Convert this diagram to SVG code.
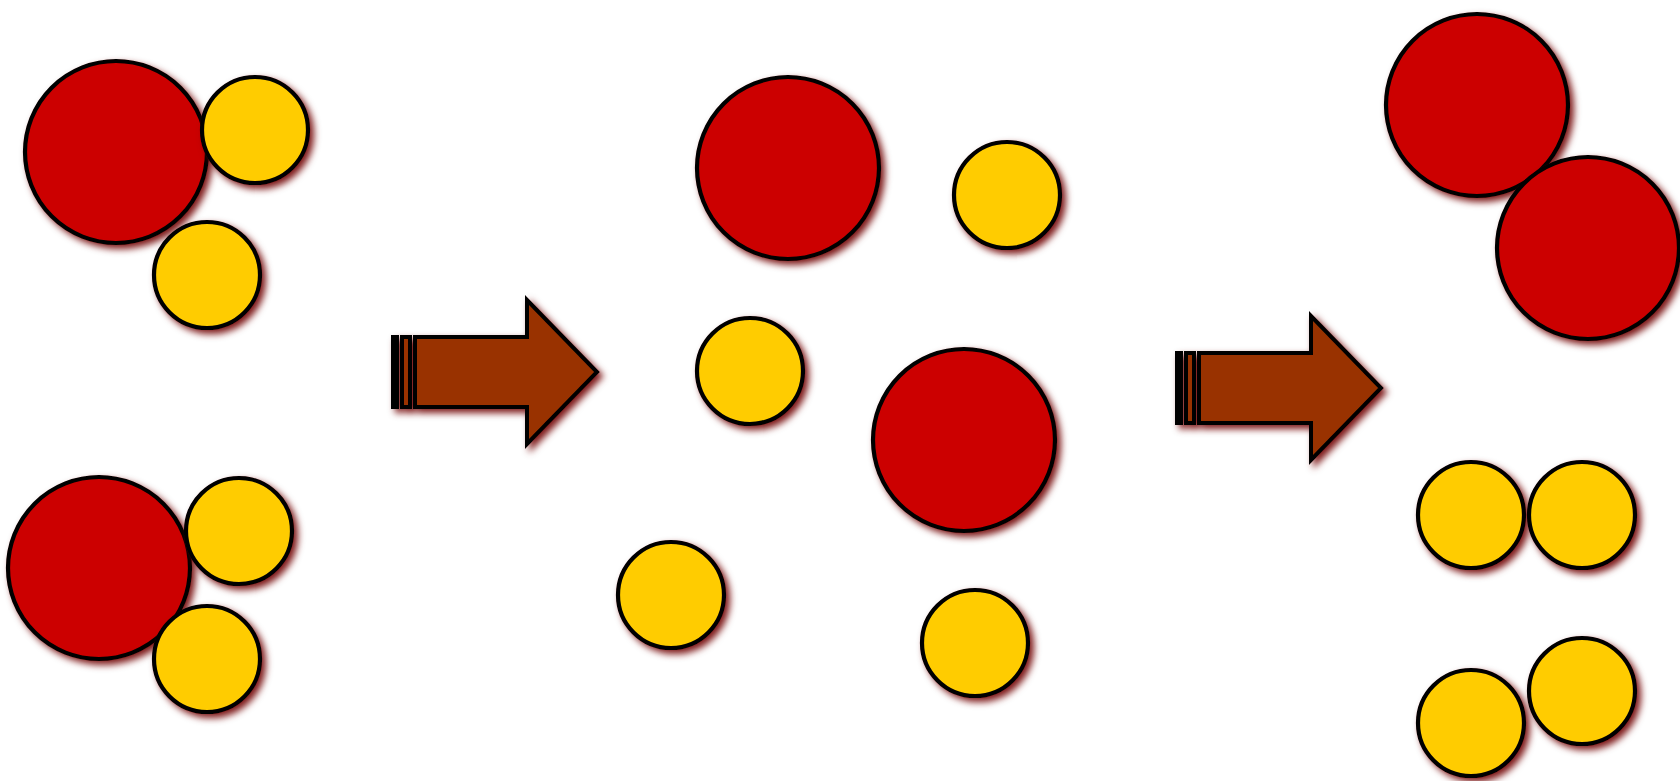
<svg xmlns="http://www.w3.org/2000/svg" width="1680" height="781" viewBox="0 0 1680 781">
<defs>
<filter id="sh" x="-20%" y="-20%" width="150%" height="150%">
<feDropShadow dx="4" dy="4" stdDeviation="3.5" flood-color="#700000" flood-opacity="0.9"/>
</filter>
<g id="arrow">
<rect x="393" y="337" width="4" height="70"/>
<rect x="402" y="337" width="8" height="70"/>
<path d="M415,337 L527,337 L527,300 L597,372 L527,444 L527,407 L415,407 Z"/>
</g>
</defs>
<style>
.red{fill:#CC0000;stroke:#000;stroke-width:4.2;filter:url(#sh)}
.yel{fill:#FFCC00;stroke:#000;stroke-width:4.2;filter:url(#sh)}
.arr{fill:#993300;stroke:#000;stroke-width:4;filter:url(#sh)}
</style>
<rect width="1680" height="781" fill="#fff"/>
<g id="left-top">
<circle class="red" cx="116" cy="152" r="91"/>
<circle class="yel" cx="255" cy="130" r="53"/>
<circle class="yel" cx="207" cy="275" r="53"/>
</g>
<g id="left-bottom">
<circle class="red" cx="99" cy="568" r="91"/>
<circle class="yel" cx="239" cy="531" r="53"/>
<circle class="yel" cx="207" cy="659" r="53"/>
</g>
<g id="middle">
<circle class="red" cx="788" cy="168" r="91"/>
<circle class="yel" cx="1007" cy="195" r="53"/>
<circle class="yel" cx="750" cy="371" r="53"/>
<circle class="red" cx="964" cy="440" r="91"/>
<circle class="yel" cx="671" cy="595" r="53"/>
<circle class="yel" cx="975" cy="643" r="53"/>
</g>
<g id="right">
<circle class="red" cx="1477" cy="105" r="91"/>
<circle class="red" cx="1588" cy="248" r="91"/>
<circle class="yel" cx="1471" cy="515" r="53"/>
<circle class="yel" cx="1582" cy="515" r="53"/>
<circle class="yel" cx="1471" cy="723" r="53"/>
<circle class="yel" cx="1582" cy="691" r="53"/>
</g>
<g id="connectors">
<use href="#arrow" class="arr"/>
<use href="#arrow" class="arr" transform="translate(784,16)"/>
</g>
</svg>
